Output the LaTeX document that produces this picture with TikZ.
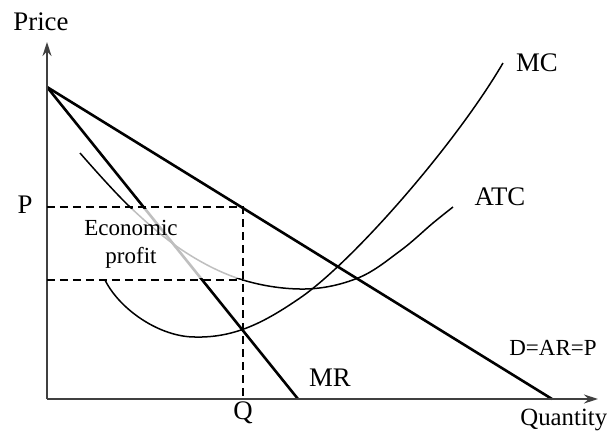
\documentclass[tikz,border=0pt]{standalone}
\usepackage{fontspec}
\setmainfont{Liberation Serif}
\usetikzlibrary{arrows.meta}

\begin{document}
\begin{tikzpicture}[
        x=0.5pt, y=-0.5pt,
        font=\fontsize{13.4}{15}\selectfont,
        axis/.style={draw=black!75, line width=0.7pt, -{Stealth[length=7pt, width=4.5pt]}},
        revenue/.style={draw=black, line width=1.3pt},
        cost/.style={draw=black, line width=0.75pt},
        guide/.style={draw=black, line width=0.9pt, dash pattern=on 4pt off 2.5pt},
        small/.style={font=\fontsize{11.5}{13}\selectfont}
    ]
    \useasboundingbox (0,0) rectangle (607,435);

    % KEY POINTS
    \coordinate (O)    at (47,399);
    \coordinate (ytop) at (47,42);
    \coordinate (xend) at (598,399);
    \coordinate (top)  at (47,87);
    \coordinate (dend) at (552,399);
    \coordinate (mrend) at (298,399);
    \coordinate (pq)   at (243,207);
    \coordinate (cq)   at (243,280);

    % COST CURVES
    \draw[cost] plot[smooth, tension=0.6] coordinates {
        (80,153) (130,207) (185,252) (243,280) (305,289) (358,278) (400,251) (433,223) (453,207)};
    \draw[cost] (105,280) .. controls (120,310) and (160,337) .. (195,337)
        .. controls (235,338) and (265,322) .. (300,298)
        .. controls (352.5,262) and (455,145) .. (503,63);

    % DEMAND AND MARGINAL REVENUE
    \draw[revenue] (top) -- (mrend);
    \draw[revenue] (top) -- (dend);

    % PROFIT AREA (faded)
    \fill[white, fill opacity=0.75] (50,209) rectangle (241,278);

    % AXES
    \draw[axis] (O) -- (ytop);
    \draw[axis] (O) -- (xend);

    % DASHED GUIDES
    \draw[guide] (O |- pq) -- (pq) -- (O -| pq);
    \draw[guide] (O |- cq) -- (cq);

    % LABELS
    \node (price) at (41,22) {Price};
    \node (plbl) at (25,205) {P};
    \node (qlbl) at (243,413) {Q};
    \node[anchor=west, inner sep=0pt, font=\fontsize{12.4}{14}\selectfont] (qty) at (520,420) {Quantity};
    \node (mc) at (537,63) {MC};
    \node (atc) at (500,197) {ATC};
    \node (mr) at (330,378) {MR};
    \node[small] (dlbl) at (553,348) {D=AR=P};
    \node[small, align=center] (profit) at (131,244) {Economic\\[1pt]profit};

\end{tikzpicture}
\end{document}
